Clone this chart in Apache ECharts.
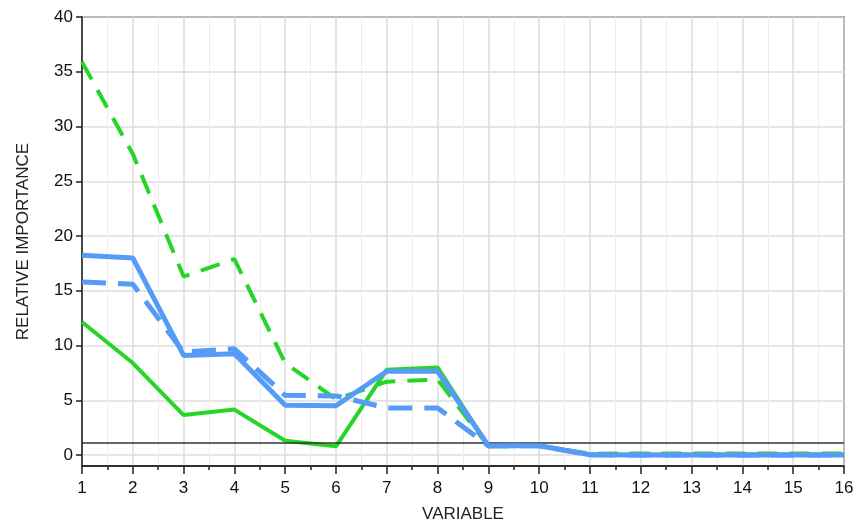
<!DOCTYPE html>
<html>
<head>
<meta charset="utf-8">
<script src="https://cdn.jsdelivr.net/npm/echarts@6/dist/echarts.min.js"></script>
<style>html,body{margin:0;padding:0;background:#fff}#c{width:857px;height:523px}</style>
</head>
<body>
<div id="c"></div>
<script>
const variables = [1,2,3,4,5,6,7,8,9,10,11,12,13,14,15,16];
const greenSolid  = [12.15, 8.4, 3.65, 4.15, 1.3, 0.8, 7.8, 8.0, 0.8, 0.85, 0.06, 0.05, 0.05, 0.05, 0.05, 0.05];
const greenDashed = [35.9, 27.5, 16.3, 17.9, 8.4, 5.1, 6.7, 6.9, 0.8, 0.85, 0.12, 0.15, 0.15, 0.15, 0.15, 0.15];
const blueDashed  = [15.8, 15.6, 9.4, 9.7, 5.45, 5.4, 4.3, 4.3, 0.85, 0.85, 0.02, 0.0, 0.0, 0.0, 0.0, 0.0];
const blueSolid   = [18.25, 18.0, 9.1, 9.25, 4.55, 4.5, 7.65, 7.65, 0.85, 0.85, 0.02, 0.0, 0.0, 0.0, 0.0, 0.0];
const yTicks = [0,5,10,15,20,25,30,35,40];
const refLine = 1.15;

const pts = arr => variables.map((v,i)=>[v, arr[i]]);
const GREEN = '#26d626';
const BLUE = '#559bf7';
const font = 'Liberation Sans';

const chart = echarts.init(document.getElementById('c'), null, {renderer:'canvas'});
chart.setOption({
  animation:false,
  backgroundColor:'#fff',
  grid:{left:82, right:13, top:17, bottom:57, outerBoundsMode:'none', containLabel:false, show:true, borderColor:'#222', borderWidth:1.5, backgroundColor:'transparent'},
  xAxis:{
    type:'value', min:1, max:16, interval:1,
    name:'VARIABLE', nameLocation:'middle', nameGap:40,
    nameTextStyle:{fontFamily:font, fontSize:17, color:'#222'},
    axisLine:{show:true, onZero:false, lineStyle:{color:'#222', width:1.5}},
    axisTick:{show:true, length:8, lineStyle:{color:'#222', width:1.5}},
    minorTick:{show:true, splitNumber:2, length:4, lineStyle:{color:'#222', width:1.5}},
    axisLabel:{fontFamily:font, fontSize:17, color:'#111', margin:14},
    splitLine:{show:true, lineStyle:{color:'#dcdcdc', width:1.5}},
    minorSplitLine:{show:true, lineStyle:{color:'#ececec', width:1}}
  },
  yAxis:{
    type:'value', min:-1, max:40,
    name:'RELATIVE IMPORTANCE', nameLocation:'middle', nameGap:50,
    nameTextStyle:{fontFamily:font, fontSize:17, color:'#222'},
    axisLine:{show:true, lineStyle:{color:'#222', width:1.5}},
    axisTick:{show:true, length:6, customValues:yTicks, lineStyle:{color:'#222', width:1.5}},
    axisLabel:{fontFamily:font, fontSize:17, color:'#111', margin:9, customValues:yTicks},
    splitLine:{show:true, lineStyle:{color:'#dcdcdc', width:1.5}}
  },
  series:[
    {type:'line', data:pts(greenSolid), symbol:'none', lineStyle:{color:GREEN, width:4}, z:2,
     markLine:{silent:true, symbol:'none', label:{show:false}, lineStyle:{color:'#333', width:1.5, type:'solid'}, data:[{yAxis:refLine}]}},
    {type:'line', data:pts(greenDashed), symbol:'none', lineStyle:{color:GREEN, width:4, type:[20,12]}, z:3},
    {type:'line', data:pts(blueDashed), symbol:'none', lineStyle:{color:BLUE, width:5, type:[24,12]}, z:4},
    {type:'line', data:pts(blueSolid), symbol:'none', lineStyle:{color:BLUE, width:5}, z:5}
  ]
});
</script>
</body>
</html>
